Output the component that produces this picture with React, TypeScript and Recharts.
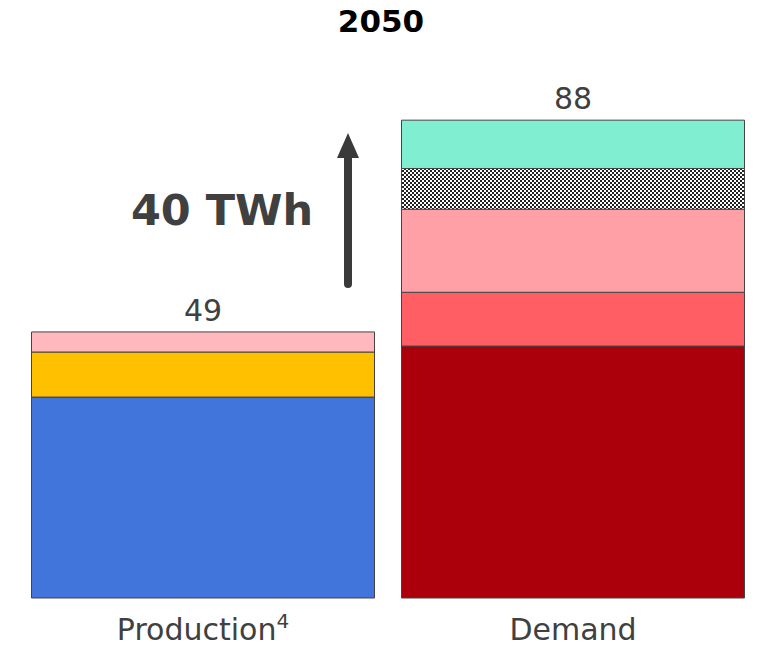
import React from "react";
import { Bar, BarChart, LabelList, XAxis, YAxis } from "recharts";

const categories = ["Production", "Demand"];
const footnotes = ["4", ""];
const totals = [49, 88];

// production stack (bottom to top)
const prodBase = [37, 0];
const prodMid = [8.3, 0];
const prodTop = [3.7, 0];

// demand stack (bottom to top)
const demBase = [0, 46.4];
const demMid = [0, 9.9];
const demUpper = [0, 15.3];
const demHatched = [0, 7.5];
const demTop = [0, 8.9];

const chartData = categories.map((name, i) => ({
  name,
  note: footnotes[i],
  total: totals[i],
  prodBase: prodBase[i],
  prodMid: prodMid[i],
  prodTop: prodTop[i],
  demBase: demBase[i],
  demMid: demMid[i],
  demUpper: demUpper[i],
  demHatched: demHatched[i],
  demTop: demTop[i]
}));

const FONT = "'DejaVu Sans', Verdana, sans-serif";
const TEXT = "#404040";

function TotalLabel(props: any) {
  const { x, y, width, height, value } = props;
  if (!height) return null;
  return (
    <text x={x + width / 2} y={y - 11} textAnchor="middle" fontSize={30} fill={TEXT} fontFamily={FONT}>
      {value}
    </text>
  );
}

function CategoryTick(props: any) {
  const { x, y, payload, index } = props;
  const note = footnotes[index];
  return (
    <text x={x} y={y + 34} textAnchor="middle" fontSize={30} fill={TEXT} fontFamily={FONT}>
      {payload.value}
      {note ? (
        <tspan fontSize={20} dy={-12}>
          {note}
        </tspan>
      ) : null}
    </text>
  );
}

export default function App(): React.ReactElement {
  const stroke = "#444";
  return (
    <div style={{ position: "fixed", left: 0, top: 0, width: 757, height: 648, overflow: "hidden", background: "#fff" }}>
      <svg width={0} height={0} style={{ position: "absolute" }}>
        <defs>
          <pattern id="checker" width={4} height={4} patternUnits="userSpaceOnUse">
            <rect x={0} y={0} width={4} height={4} fill="#fff" />
            <rect x={0} y={0} width={2} height={2} fill="#222" />
            <rect x={2} y={2} width={2} height={2} fill="#222" />
          </pattern>
        </defs>
      </svg>
      <BarChart
        width={759}
        height={648}
        data={chartData}
        margin={{ top: 55, right: 1, left: 18, bottom: 0 }}
        barCategoryGap={13.5}
      >
        <XAxis
          dataKey="name"
          axisLine={false}
          tickLine={false}
          height={50}
          tick={<CategoryTick />}
          interval={0}
        />
        <YAxis hide domain={[0, 100]} />
        <Bar dataKey="prodBase" stackId="a" fill="#4175DC" stroke={stroke} isAnimationActive={false} />
        <Bar dataKey="prodMid" stackId="a" fill="#FFC000" stroke={stroke} isAnimationActive={false} />
        <Bar dataKey="prodTop" stackId="a" fill="#FFB8BE" stroke={stroke} isAnimationActive={false}>
          <LabelList dataKey="total" content={<TotalLabel />} />
        </Bar>
        <Bar dataKey="demBase" stackId="a" fill="#AB000B" stroke={stroke} isAnimationActive={false} />
        <Bar dataKey="demMid" stackId="a" fill="#FF5F64" stroke={stroke} isAnimationActive={false} />
        <Bar dataKey="demUpper" stackId="a" fill="#FFA0A6" stroke={stroke} isAnimationActive={false} />
        <Bar dataKey="demHatched" stackId="a" fill="url(#checker)" stroke={stroke} isAnimationActive={false} />
        <Bar dataKey="demTop" stackId="a" fill="#80EED0" stroke={stroke} isAnimationActive={false}>
          <LabelList dataKey="total" content={<TotalLabel />} />
        </Bar>
      </BarChart>
      <svg width={757} height={648} style={{ position: "absolute", left: 0, top: 0, pointerEvents: "none" }}>
        <text x={381} y={32} textAnchor="middle" fontSize={31} fontWeight="bold" fill="#000" fontFamily={FONT}>
          2050
        </text>
        <text x={222} y={225} textAnchor="middle" fontSize={43} fontWeight="bold" fill={TEXT} fontFamily={FONT}>
          40 TWh
        </text>
        <line x1={348} y1={284} x2={348} y2={155} stroke="#3a3a3a" strokeWidth={8} strokeLinecap="round" />
        <polygon points="348,133 337,158 359,158" fill="#3a3a3a" />
      </svg>
    </div>
  );
}
